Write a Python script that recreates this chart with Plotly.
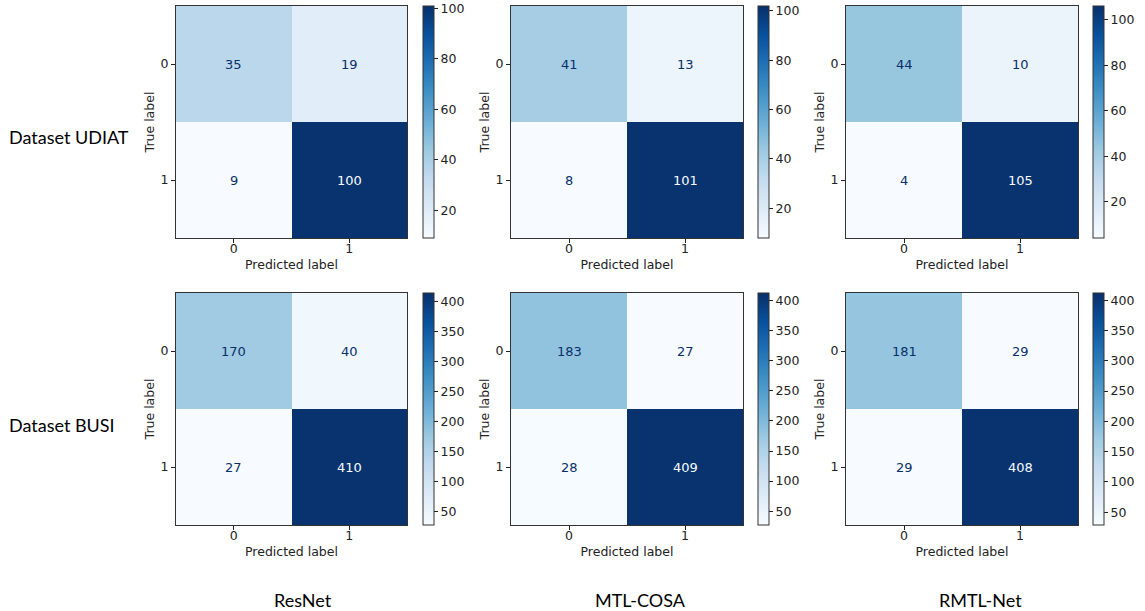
import plotly.graph_objects as go

# ---- data ----
pred_labels = [0, 1]
true_labels = [0, 1]
models = ["ResNet", "MTL-COSA", "RMTL-Net"]
datasets = ["Dataset UDIAT", "Dataset BUSI"]

udiat_resnet = [[35, 19], [9, 100]]
udiat_mtlcosa = [[41, 13], [8, 101]]
udiat_rmtl = [[44, 10], [4, 105]]
busi_resnet = [[170, 40], [27, 410]]
busi_mtlcosa = [[183, 27], [28, 409]]
busi_rmtl = [[181, 29], [29, 408]]

cbar_ticks_udiat = [20, 40, 60, 80, 100]
cbar_ticks_busi = [50, 100, 150, 200, 250, 300, 350, 400]

matrices = [[udiat_resnet, udiat_mtlcosa, udiat_rmtl],
            [busi_resnet, busi_mtlcosa, busi_rmtl]]
cbar_ticks = [cbar_ticks_udiat, cbar_ticks_busi]

# ---- style ----
W, H = 1145, 611
blues = ["#f7fbff", "#deebf7", "#c6dbef", "#9ecae1", "#6baed6",
         "#4292c6", "#2171b5", "#08519c", "#08306b"]
colorscale = [[i / 8, c] for i, c in enumerate(blues)]
mpl_font = "DejaVu Sans"
lbl_font = "Lato"
fs = 12.5

col_px = [(176, 407), (511, 743), (846, 1078)]
cbar_px = [423, 758, 1093]
row_px = [(6, 238), (293, 525)]

fig = go.Figure()
annotations = []
k = 0
for r in range(2):
    for c in range(3):
        k += 1
        z = matrices[r][c]
        xa = "x" if k == 1 else f"x{k}"
        ya = "y" if k == 1 else f"y{k}"
        x0, x1 = col_px[c]
        top, bot = row_px[r]
        zmin = min(min(row) for row in z)
        zmax = max(max(row) for row in z)
        fig.add_trace(go.Heatmap(
            z=z, x=pred_labels, y=true_labels, xaxis=xa, yaxis=ya,
            colorscale=colorscale, showscale=True,
            zmin=zmin, zmax=zmax + 0.01 * (zmax - zmin),
            colorbar=dict(
                x=cbar_px[c] / W, xanchor="left", xpad=0, ypad=0,
                y=1 - top / H, yanchor="top",
                len=(bot - top) / H, lenmode="fraction",
                thickness=11, thicknessmode="pixels",
                outlinewidth=1, outlinecolor="#333333",
                tickvals=cbar_ticks[r], ticks="outside", ticklen=4,
                tickcolor="#222", tickfont=dict(family=mpl_font, size=fs, color="#222"),
            ),
            hoverongaps=False,
        ))
        axn = "" if k == 1 else str(k)
        fig.layout["xaxis" + axn] = dict(
            domain=[x0 / W, x1 / W], anchor=ya, range=[-0.5, 1.5],
            tickvals=pred_labels, ticktext=[str(v) for v in pred_labels],
            ticks="outside", ticklen=4, tickcolor="#222",
            ticklabelstandoff=-5,
            showline=True, mirror=True, linecolor="#333333", linewidth=1,
            showgrid=False, zeroline=False,
            tickfont=dict(family=mpl_font, size=fs, color="#222"),
            title=dict(text="Predicted label", standoff=5,
                       font=dict(family=mpl_font, size=fs, color="#222")),
        )
        fig.layout["yaxis" + axn] = dict(
            domain=[1 - bot / H, 1 - top / H], anchor=xa, range=[1.5, -0.5],
            tickvals=true_labels, ticktext=[str(v) for v in true_labels],
            ticks="outside", ticklen=4, tickcolor="#222",
            showline=True, mirror=True, linecolor="#333333", linewidth=1,
            showgrid=False, zeroline=False,
            tickfont=dict(family=mpl_font, size=fs, color="#222"),
            title=dict(text="True label", standoff=3,
                       font=dict(family=mpl_font, size=fs, color="#222")),
        )
        thresh = (zmin + zmax) / 2
        for i, tl in enumerate(true_labels):
            for j, pl in enumerate(pred_labels):
                v = z[i][j]
                annotations.append(dict(
                    x=pl, y=tl, xref=xa, yref=ya, text=str(v), showarrow=False,
                    font=dict(family=mpl_font, size=13,
                              color="#f7fbff" if v > thresh else "#08306b"),
                ))

for r, name in enumerate(datasets):
    annotations.append(dict(
        x=7 / W, y=1 - 137 / H if r == 0 else 1 - 425 / H, xref="paper", yref="paper",
        xanchor="left", yanchor="middle", text=name, showarrow=False,
        font=dict(family=lbl_font, size=18, color="#000"),
    ))
for c, name in enumerate(models):
    cx = [303, 640, 980][c]
    annotations.append(dict(
        x=cx / W, y=1 - 600 / H, xref="paper", yref="paper",
        xanchor="center", yanchor="middle", text=name, showarrow=False,
        font=dict(family=lbl_font, size=18, color="#000"),
    ))

fig.update_layout(
    width=W, height=H, margin=dict(l=0, r=0, t=0, b=0),
    paper_bgcolor="white", plot_bgcolor="white",
    annotations=annotations, showlegend=False,
)
fig.write_html(
    "out.html",
    config={"displayModeBar": False},
    post_script="document.body.style.margin='0';document.body.style.overflow='hidden';",
)
